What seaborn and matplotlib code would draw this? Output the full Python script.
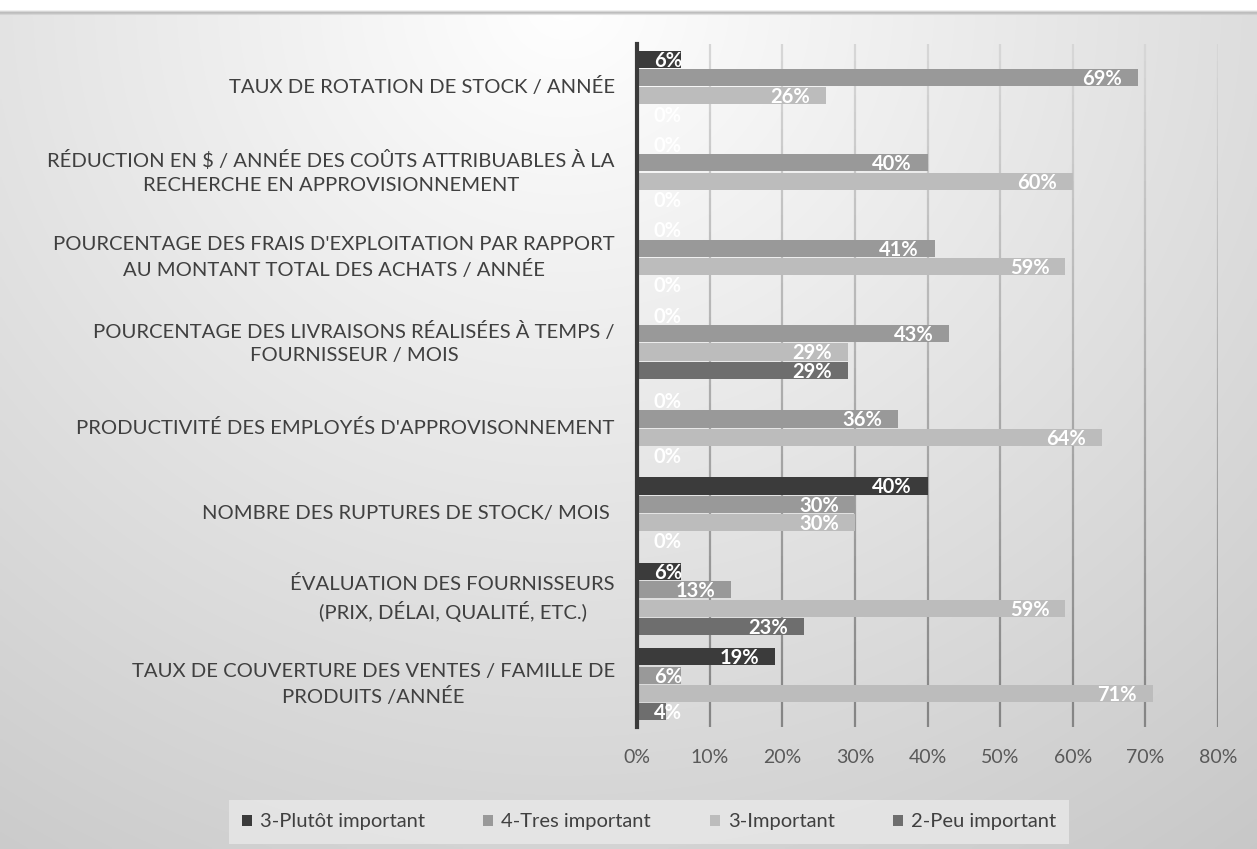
import numpy as np
import pandas as pd
import matplotlib
matplotlib.use("Agg")
import matplotlib.pyplot as plt
import seaborn as sns
from matplotlib.patches import Patch
from matplotlib.collections import LineCollection

categories = [
    "TAUX DE ROTATION DE STOCK / ANNÉE",
    "RÉDUCTION EN $ / ANNÉE DES COÛTS ATTRIBUABLES À LA\nRECHERCHE EN APPROVISIONNEMENT",
    "POURCENTAGE DES FRAIS D'EXPLOITATION PAR RAPPORT\nAU MONTANT TOTAL DES ACHATS / ANNÉE",
    "POURCENTAGE DES LIVRAISONS RÉALISÉES À TEMPS /\nFOURNISSEUR / MOIS",
    "PRODUCTIVITÉ DES EMPLOYÉS D'APPROVISONNEMENT",
    "NOMBRE DES RUPTURES DE STOCK/ MOIS ",
    "ÉVALUATION DES FOURNISSEURS\n(PRIX, DÉLAI, QUALITÉ, ETC.)",
    "TAUX DE COUVERTURE DES VENTES / FAMILLE DE\nPRODUITS /ANNÉE",
]
series = ["3-Plutôt important", "4-Tres important", "3-Important", "2-Peu important"]
plutot = [6, 0, 0, 0, 0, 40, 6, 19]
tres = [69, 40, 41, 43, 36, 30, 13, 6]
important = [26, 60, 59, 29, 64, 30, 59, 71]
peu = [0, 0, 0, 29, 0, 0, 23, 4]
ticks = [0, 10, 20, 30, 40, 50, 60, 70, 80]
colors = ["#3b3b3b", "#999999", "#bcbcbc", "#6e6e6e"]

values = [plutot, tres, important, peu]
df = pd.DataFrame({
    "category": categories * 4,
    "series": [s for s in series for _ in categories],
    "value": [v for vals in values for v in vals],
})

sns.set_theme(style="white")
plt.rcParams["font.family"] = ["Lato", "DejaVu Sans"]

W, H = 1257, 849
fig = plt.figure(figsize=(W / 100, H / 100), dpi=100)

# background gradient
bg = fig.add_axes([0, 0, 1, 1], zorder=-10)
yy, xx = np.mgrid[0:1:300j, 0:1:400j]
r = np.sqrt(((xx - 0.45) / 0.75) ** 2 + (yy / 1.05) ** 2)
val = 1.0 - 0.18 * np.clip(r, 0, 1.2)
img = np.dstack([val, val, val])
top = int(300 * 12 / H)
img[:top] = 1.0
img[top:top + 1] = 0.72
bg.imshow(img, aspect="auto", extent=[0, 1, 1, 0], interpolation="bilinear")
bg.set_xlim(0, 1)
bg.set_ylim(1, 0)
bg.axis("off")

ax = fig.add_axes([637 / W, 1 - 727 / H, (1218 - 637) / W, (727 - 44) / H])
ax.patch.set_alpha(0)

sns.barplot(data=df, y="category", x="value", hue="series", order=categories,
            hue_order=series, palette=colors, orient="h", width=0.86, gap=0.07,
            saturation=1, ax=ax, legend=False, zorder=3, linewidth=0, edgecolor="none")

ax.set_xlim(0, 80)
ax.set_ylim(len(categories) - 0.5, -0.5)
ax.set_xticks(ticks)
ax.set_xticklabels([f"{t}%" for t in ticks])
ax.set_xlabel("")
ax.set_ylabel("")
ax.tick_params(axis="x", length=0, pad=16, labelsize=14, labelcolor="#595959")
ax.tick_params(axis="y", length=0, pad=16, labelsize=14.6, labelcolor="#404040")
for lab in ax.get_yticklabels():
    lab.set_multialignment("center")
    lab.set_linespacing(1.45)
    lab.set_verticalalignment("center")

for s in ["top", "right", "bottom"]:
    ax.spines[s].set_visible(False)
ax.spines["left"].set_color("#3a3a3a")
ax.spines["left"].set_linewidth(3)
ax.spines["left"].set_zorder(5)

# gradient gridlines
nseg = 40
ys = np.linspace(-0.5, len(categories) - 0.5, nseg + 1)
for t in ticks[1:]:
    segs = [[(t, ys[i]), (t, ys[i + 1])] for i in range(nseg)]
    cvals = np.linspace(0.84, 0.52, nseg)
    lc = LineCollection(segs, colors=[(c, c, c) for c in cvals], linewidths=1.6, zorder=1)
    ax.add_collection(lc)

# data labels
for container, vals in zip(ax.containers, values):
    for bar, v in zip(container, vals):
        yc = bar.get_y() + bar.get_height() / 2
        if v < 9:
            ax.annotate(f"{v}%", (0, yc), xytext=(12, -1), textcoords="offset points",
                        ha="left", va="center", color="white", fontsize=14.5,
                        fontweight="bold", zorder=6)
        else:
            ax.annotate(f"{v}%", (v, yc), xytext=(-11.5, -1), textcoords="offset points",
                        ha="right", va="center", color="white", fontsize=14.5,
                        fontweight="bold", zorder=6)

handles = [Patch(facecolor=c, edgecolor="none", label=s) for s, c in zip(series, colors)]
leg = fig.legend(handles=handles, loc="center", bbox_to_anchor=(649 / W, 1 - 822 / H),
                 ncol=4, frameon=True, fontsize=14.5, handlelength=0.5, handleheight=0.5,
                 handletextpad=0.4, columnspacing=2.9, borderpad=0.65, fancybox=False)
leg.get_frame().set_facecolor("#e6e6e6")
leg.get_frame().set_edgecolor("none")
leg.get_frame().set_alpha(0.9)
for txt in leg.get_texts():
    txt.set_color("#404040")

fig.savefig("out.png", dpi=100)
